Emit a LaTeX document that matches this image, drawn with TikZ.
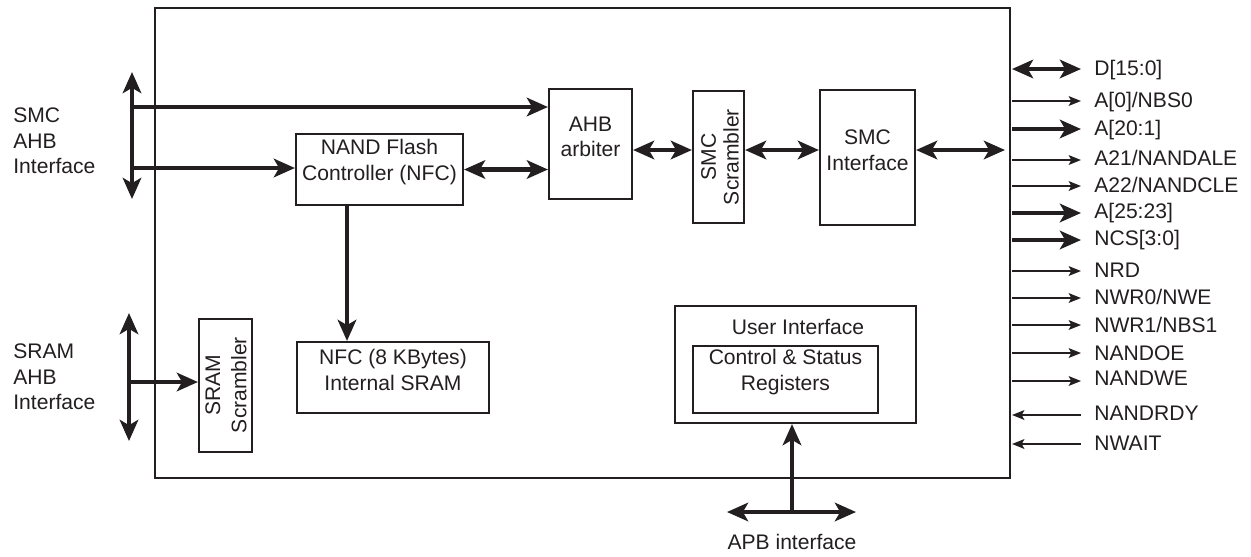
\documentclass[tikz,border=0pt]{standalone}
\usepackage{fontspec}
\setmainfont{Liberation Sans}
\usetikzlibrary{arrows.meta,fit}
\definecolor{ink}{RGB}{35,31,32}
\newcommand\myfs{\fontsize{12}{14.5}\selectfont}
\tikzset{
  Big/.tip={Stealth[length=12pt,width=10.5pt,inset=3pt]},
  Sm/.tip={Stealth[length=7pt,width=5.5pt,inset=1.5pt]},
  box/.style={draw=ink,line width=1.2pt,inner sep=0pt,align=center,text=ink,font=\myfs},
  txt/.style={text=ink,font=\myfs,inner sep=0pt},
  bus/.style={draw=ink,line width=2.4pt},
  wire/.style={draw=ink,line width=1.1pt},
  dbl/.style={bus,Big-Big},
  outthick/.style={bus,-Big},
  outthin/.style={wire,-Sm},
  inthin/.style={wire,Sm-}
}
\begin{document}
\begin{tikzpicture}[x=0.02cm,y=-0.02cm]
\useasboundingbox (0,0) rectangle (1251,556);
% boxes
\node[box,fit={(155,8)(1010,478)}] (main) {};
\node[box,fit={(296,134)(463,205)}] (nfc) {NAND Flash\\Controller (NFC)};
\node[box,fit={(549,89)(632,199)}] (arb) {AHB\\arbiter};
\node[box,fit={(693,91)(744,223)}] (smcs) {};
\node[txt,rotate=90,align=center,font=\fontsize{12}{13}\selectfont] (smcsT) at (720,157) {SMC\\Scrambler};
\node[box,fit={(820,90)(915,225)}] (smci) {SMC\\Interface\\[8pt]};
\node[box,fit={(199,319)(252,452)}] (srams) {};
\node[txt,rotate=90,align=center,font=\fontsize{12}{15}\selectfont] (sramsT) at (226,385) {SRAM\\Scrambler};
\node[box,fit={(297,342)(489,413)}] (nfcsram) {NFC (8 KBytes)\\Internal SRAM};
\node[box,fit={(675,306)(916,423)}] (ui) {};
\node[txt] (uilbl) at (798,327) {User Interface};
\node[box,fit={(693,346)(878,413)}] (csr) {Control \& Status\\Registers};
% side labels
\node[txt,anchor=west,align=left] (smclbl) at (13,141) {SMC\\AHB\\Interface};
\node[txt,anchor=west,align=left] (sramlbl) at (13,377) {SRAM\\AHB\\Interface};
\node[txt] (apblbl) at (792,542) {APB interface};
% SMC AHB bus
\coordinate (st) at (132,72);
\coordinate (sb) at (132,199);
\coordinate (j1) at (132,107);
\coordinate (j2) at (132,168);
\draw[dbl] (st) -- (sb);
\draw[outthick] (j1) -- (j1 -| arb.west);
\draw[outthick] (j2) -- (j2 -| nfc.west);
\draw[dbl] (nfc.east) -- (nfc.east -| arb.west);
\coordinate (j3) at (0,150);
\draw[dbl] (arb.east |- j3) -- (smcs.west |- j3);
\draw[dbl] (smcs.east |- j3) -- (smci.west |- j3);
\coordinate (r1) at (1005,150);
\draw[dbl] (smci.east |- j3) -- (r1);
% NFC to SRAM
\coordinate (c1) at (347,205);
\draw[outthick] (c1) -- (c1 |- nfcsram.north);
% SRAM AHB bus
\coordinate (qt) at (129,313);
\coordinate (qb) at (129,441);
\coordinate (j4) at (129,382);
\draw[dbl] (qt) -- (qb);
\draw[outthick] (j4) -- (j4 -| srams.west);
% APB
\coordinate (al) at (727,512);
\coordinate (ar) at (856,512);
\coordinate (am) at (792,512);
\draw[dbl] (al) -- (ar);
\draw[outthick] (am) -- (am |- ui.south);
% right signals
\foreach \y/\ly/\t/\k [count=\i] in {
  69/68/{D[15:0]}/dbl,
  101/100/{A[0]/NBS0}/outthin,
  129/128/{A[20:1]}/outthick,
  160/158/{A21/NANDALE}/outthin,
  186/185/{A22/NANDCLE}/outthin,
  213/211/{A[25:23]}/outthick,
  240/238/{NCS[3:0]}/outthick,
  271/270/{NRD}/outthin,
  298/297/{NWR0/NWE}/outthin,
  325/325/{NWR1/NBS1}/outthin,
  353/353/{NANDOE}/outthin,
  381/378/{NANDWE}/outthin,
  415/413/{NANDRDY}/inthin,
  444/443/{NWAIT}/inthin}{
  \coordinate (sa\i) at (1012,\y);
  \coordinate (sz\i) at (1081,\y);
  \draw[\k] (sa\i) -- (sz\i);
  \node[txt,anchor=west,text height=8.6pt,text depth=0pt] (sig\i) at (1094,\ly) {\t};
}
\end{tikzpicture}
\end{document}
